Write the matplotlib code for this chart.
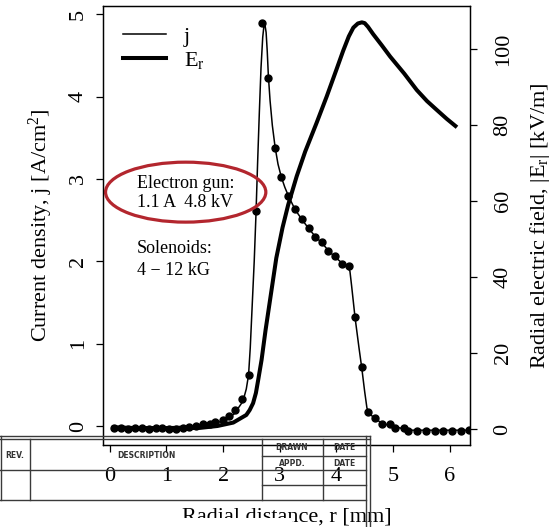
import numpy as np
import matplotlib
matplotlib.use('Agg')
import matplotlib.pyplot as plt
from matplotlib.patches import Ellipse, Rectangle
from matplotlib.lines import Line2D

plt.rcParams['font.family'] = 'Liberation Serif'
plt.rcParams['mathtext.fontset'] = 'custom'
plt.rcParams['mathtext.rm'] = 'Liberation Serif'
plt.rcParams['mathtext.it'] = 'Liberation Serif:italic'

# measured current density (dots)
j_r = [0.07, 0.19, 0.32, 0.44, 0.56, 0.69, 0.81, 0.92, 1.04, 1.17, 1.29, 1.40,
       1.53, 1.64, 1.77, 1.86, 2.00, 2.10, 2.21, 2.34, 2.46, 2.58, 2.68, 2.80,
       2.92, 3.03, 3.15, 3.27, 3.39, 3.51, 3.63, 3.75, 3.86, 3.98, 4.10, 4.22,
       4.33, 4.45, 4.56, 4.68, 4.81, 4.95, 5.04, 5.19, 5.27, 5.43, 5.58, 5.74,
       5.89, 6.05, 6.20, 6.34]
j_meas = [-0.02, -0.02, -0.03, -0.02, -0.02, -0.03, -0.02, -0.02, -0.03, -0.03,
          -0.02, -0.01, 0.00, 0.03, 0.03, 0.05, 0.07, 0.12, 0.19, 0.33, 0.62,
          2.61, 4.89, 4.23, 3.38, 3.02, 2.79, 2.63, 2.51, 2.40, 2.30, 2.24, 2.13,
          2.06, 1.97, 1.94, 1.32, 0.72, 0.17, 0.10, 0.02, 0.02, -0.02, -0.02,
          -0.06, -0.06, -0.06, -0.06, -0.06, -0.06, -0.06, -0.05]

# fitted current density (thin line)
fit_r = [0.05, 0.5, 1.0, 1.5, 1.8, 2.0, 2.2, 2.35, 2.41, 2.45, 2.48, 2.51,
         2.55, 2.58, 2.61, 2.64, 2.67, 2.70, 2.72, 2.74, 2.76, 2.78, 2.80,
         2.83, 2.87, 2.92, 2.97, 3.03, 3.09, 3.15, 3.27, 3.39, 3.51, 3.63,
         3.75, 3.86, 3.98, 4.10, 4.20, 4.24, 4.27, 4.33, 4.40, 4.45, 4.50,
         4.54, 4.58, 4.69, 4.81, 5.00, 5.27, 6.34]
fit_j = [0.0, -0.01, -0.01, 0.0, 0.03, 0.06, 0.15, 0.30, 0.45, 0.62, 0.95, 1.4,
         2.0, 2.55, 3.2, 3.8, 4.35, 4.72, 4.85, 4.87, 4.78, 4.55, 4.25,
         3.95, 3.65, 3.38, 3.18, 3.02, 2.90, 2.80, 2.63, 2.51, 2.40, 2.30,
         2.22, 2.13, 2.05, 1.98, 1.93, 1.88, 1.70, 1.32, 0.95, 0.70, 0.42,
         0.22, 0.15, 0.09, 0.03, 0.0, -0.05, -0.05]

# radial electric field (thick line)
e_r = [0.07, 0.5, 1.0, 1.59, 1.9, 2.18, 2.41, 2.47, 2.53, 2.58, 2.62, 2.68,
       2.75, 2.83, 2.94, 3.05, 3.15, 3.30, 3.45, 3.65, 3.83, 4.00, 4.12, 4.22,
       4.30, 4.38, 4.45, 4.50, 4.56, 4.65, 4.80, 4.95, 5.20, 5.42, 5.60, 5.77,
       5.95, 6.13]
e_field = [0.3, 0.2, 0.2, 0.3, 0.8, 1.7, 3.7, 5.0, 6.8, 9.5, 12.9, 18.2, 26,
           34, 45, 53, 59, 66.5, 73, 80.5, 87.5, 94.5, 99.5, 103.3, 105.6,
           106.7, 107, 106.8, 105.8, 103.9, 101, 98, 93.5, 89.2, 86.3, 84,
           81.6, 79.4]

fig = plt.figure(figsize=(5.54, 5.27), dpi=100)
ax1 = fig.add_axes([103/554, 1-445/527, 367/554, 439/527])
ax2 = ax1.twinx()

ax1.plot(fit_r, fit_j, color='k', lw=1.1)
ax1.plot(j_r, j_meas, 'o', color='k', ms=5)
ax2.plot(e_r, e_field, color='k', lw=2.9, solid_capstyle='butt',
         solid_joinstyle='round')

ax1.set_xlim(-0.12, 6.36)
ax1.set_ylim(-0.23, 5.10)
ax2.set_ylim(-4.2, 111.3)
ax1.set_xticks(range(7))
ax1.set_yticks(range(6))
ax2.set_yticks(range(0, 101, 20))

for a in (ax1, ax2):
    a.tick_params(direction='out', length=5, width=0.9, labelsize=16)
    for s in a.spines.values():
        s.set_linewidth(0.9)
ax1.tick_params(axis='x', pad=11)
ax1.tick_params(axis='y', labelrotation=90, pad=6)
ax2.tick_params(axis='y', labelrotation=90, pad=12)
for lbl in ax1.get_yticklabels() + ax2.get_yticklabels():
    lbl.set_va('center')

ax1.set_xlabel('Radial distance, r [mm]', fontsize=16, labelpad=15)
ax1.set_ylabel('Current density, j [A/cm$^2$]', fontsize=16, labelpad=10)
ax2.set_ylabel('Radial electric field, |E$_\\mathrm{r}$| [kV/m]', fontsize=16, labelpad=11)

handles = [Line2D([], [], color='k', lw=1.1), Line2D([], [], color='k', lw=2.9)]
ax2.legend(handles, ['j', 'E$_\\mathrm{r}$'], loc='upper left', frameon=False,
           fontsize=16, handlelength=1.95, handletextpad=0.8, labelspacing=0.15,
           bbox_to_anchor=(0.0, 1.0))

ax1.text(0.48, 2.95, 'Electron gun:', fontsize=13, va='center')
ax1.text(0.48, 2.71, '1.1 A  4.8 kV', fontsize=13, va='center')
ax1.text(0.48, 2.16, 'Solenoids:', fontsize=13, va='center')
ax1.text(0.48, 1.89, '4 \u2212 12 kG', fontsize=13, va='center')
ax1.add_patch(Ellipse((1.34, 2.84), 2.83, 0.728, fill=False,
                      edgecolor='#b3262e', lw=2.3, zorder=5))

# drawing title block pasted over the lower left corner
ov = fig.add_axes([0, 0, 1, 1])
ov.set_zorder(10)
ov.set_xlim(0, 554)
ov.set_ylim(527, 0)
ov.axis('off')
lc = '#3a3a3a'
for y in (436, 439):
    ov.plot([0, 370], [y, y], color=lc, lw=1.0)
for y in (470, 500):
    ov.plot([0, 366], [y, y], color=lc, lw=1.0)
for y in (456, 485):
    ov.plot([262, 366], [y, y], color=lc, lw=1.0)
ov.plot([1, 1], [436, 500], color=lc, lw=1.0)
ov.plot([30, 30], [439, 500], color=lc, lw=1.0)
ov.plot([262, 262], [439, 500], color=lc, lw=1.0)
ov.plot([323, 323], [439, 500], color=lc, lw=1.0)
ov.plot([366, 366], [436, 527], color=lc, lw=1.0)
ov.plot([370, 370], [436, 527], color=lc, lw=1.0)
ov.add_patch(Rectangle((0, 518), 292, 10, facecolor='white', edgecolor='none'))
tb = dict(fontsize=5.5, fontweight='bold', color='#333333', ha='center',
          va='center', family='DejaVu Sans')
ov.text(15, 455, 'REV.', **tb)
ov.text(146, 455, 'DESCRIPTION', **tb)
ov.text(292, 448, 'DRAWN', **tb)
ov.text(344, 448, 'DATE', **tb)
ov.text(292, 463, 'APPD.', **tb)
ov.text(344, 463, 'DATE', **tb)

fig.savefig('out.png', dpi=100)
